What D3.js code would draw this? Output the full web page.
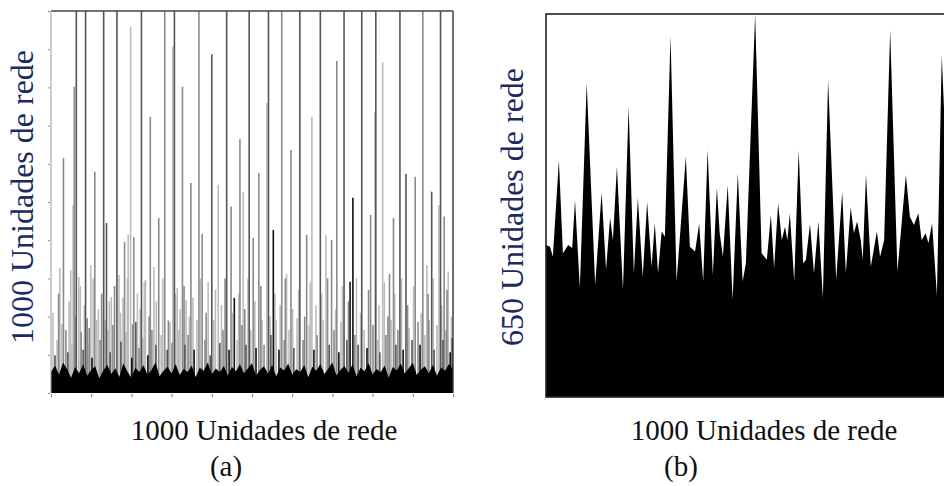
<!DOCTYPE html>
<html><head><meta charset="utf-8">
<script src="https://cdn.jsdelivr.net/npm/d3@7"></script>
<style>body{margin:0;background:#fff}svg{display:block}</style>
</head><body>
<svg id="c" width="944" height="486"></svg>
<script>
// ---------- DATA ----------
// Panel (a): tall columns [x (lattice units), height (lattice units), tone]
const aColumns = [
  [22,327,'light'],[31,615,'mid'],[49,322,'light'],[55,492,'light'],[58,802,'mid'],[63,1000,'dark'],
  [69,304,'light'],[86,1000,'dark'],[90,196,'mid'],[99,335,'light'],[109,579,'mid'],[131,1000,'dark'],
  [138,445,'dark'],[150,251,'light'],[164,1000,'dark'],[169,309,'light'],[183,395,'mid'],[192,414,'light'],
  [198,959,'light'],[206,408,'mid'],[225,1000,'dark'],[235,296,'light'],[247,723,'mid'],[256,330,'light'],
  [268,458,'mid'],[283,1000,'mid'],[303,907,'light'],[307,1000,'dark'],[314,275,'light'],[327,802,'mid'],
  [336,243,'light'],[348,550,'mid'],[368,1000,'mid'],[376,416,'mid'],[391,291,'light'],[400,887,'dark'],
  [416,545,'light'],[437,1000,'dark'],[448,488,'mid'],[456,249,'black'],[470,664,'mid'],[478,527,'light'],
  [493,1000,'dark'],[503,406,'mid'],[517,575,'mid'],[537,759,'light'],[541,1000,'dark'],[553,427,'black'],
  [574,1000,'mid'],[586,312,'light'],[597,636,'mid'],[619,1000,'dark'],[636,414,'mid'],[649,723,'light'],
  [670,1000,'dark'],[684,414,'light'],[698,401,'mid'],[711,869,'mid'],[729,1000,'dark'],[751,511,'black'],
  [773,1000,'dark'],[795,466,'mid'],[806,736,'light'],[808,1000,'dark'],[825,866,'light'],[842,312,'mid'],
  [852,458,'mid'],[868,1000,'dark'],[883,573,'dark'],[906,566,'mid'],[925,1000,'mid'],[935,335,'light'],
  [947,527,'dark'],[965,492,'light'],[969,1000,'dark'],[978,462,'mid'],[988,318,'light']
];
// Panel (a): medium columns filling the lower half
const aMid = [
  [5,210,'light'],[19,260,'mid'],[27,180,'light'],[45,240,'light'],[60,200,'mid'],[73,280,'light'],
  [83,230,'light'],[95,170,'mid'],[105,300,'light'],[118,220,'light'],[126,260,'mid'],[135,190,'light'],
  [145,240,'light'],[158,280,'mid'],[173,210,'light'],[179,250,'light'],[190,300,'light'],[203,180,'mid'],
  [215,260,'light'],[222,220,'light'],[232,290,'light'],[244,200,'mid'],[262,240,'light'],[278,300,'light'],
  [292,190,'mid'],[310,260,'light'],[321,220,'light'],[331,280,'mid'],[344,200,'light'],[353,250,'light'],
  [372,300,'light'],[386,210,'mid'],[409,270,'light'],[424,230,'light'],[433,300,'mid'],[451,210,'light'],
  [467,260,'light'],[482,220,'mid'],[490,300,'light'],[507,240,'light'],[522,280,'mid'],[545,200,'light'],
  [557,260,'light'],[570,230,'light'],[583,300,'mid'],[601,220,'light'],[616,270,'light'],[631,200,'mid'],
  [645,290,'light'],[659,230,'light'],[673,260,'light'],[688,300,'mid'],[708,220,'light'],[725,280,'light'],
  [740,240,'mid'],[760,300,'light'],[770,210,'light'],[790,270,'mid'],[816,230,'light'],[829,290,'light'],
  [838,200,'mid'],[855,260,'light'],[872,300,'light'],[887,230,'mid'],[902,280,'light'],[921,210,'light'],
  [938,260,'mid'],[951,300,'light'],[972,230,'light'],[985,270,'mid'],[996,200,'light']
];
// Panel (a): short columns near the bottom
const aShort = [
  [10,99,'dark'],[15,139,'light'],[37,165,'mid'],[42,107,'dark'],[52,126,'light'],[75,160,'mid'],
  [80,113,'dark'],[92,126,'light'],[102,92,'black'],[114,191,'light'],[122,139,'mid'],[142,165,'light'],
  [147,107,'dark'],[154,178,'mid'],[174,134,'dark'],[187,160,'light'],[201,92,'black'],[211,186,'dark'],
  [219,118,'mid'],[229,144,'light'],[241,99,'black'],[251,165,'mid'],[261,126,'dark'],[274,152,'light'],
  [289,113,'dark'],[296,186,'light'],[301,131,'mid'],[318,165,'light'],[333,126,'dark'],[341,152,'mid'],
  [356,113,'black'],[363,191,'light'],[383,139,'mid'],[396,99,'dark'],[405,191,'light'],[420,131,'dark'],
  [428,165,'mid'],[443,113,'black'],[463,139,'light'],[475,178,'mid'],[485,126,'dark'],[497,165,'light'],
  [510,118,'black'],[525,191,'light'],[530,126,'mid'],[547,152,'dark'],[560,191,'light'],[567,113,'black'],
  [580,139,'mid'],[592,165,'light'],[604,118,'dark'],[612,196,'light'],[627,139,'mid'],[642,178,'light'],
  [654,113,'black'],[662,152,'mid'],[677,191,'light'],[692,126,'dark'],[704,165,'mid'],[716,107,'black'],
  [721,186,'light'],[736,139,'dark'],[744,291,'black'],[756,152,'mid'],[764,126,'dark'],[779,165,'light'],
  [786,118,'black'],[801,178,'mid'],[813,139,'light'],[818,107,'dark'],[833,152,'mid'],[846,191,'light'],
  [858,126,'dark'],[863,165,'mid'],[876,113,'black'],[891,170,'light'],[898,139,'dark'],[913,186,'mid'],
  [918,126,'black'],[930,152,'light'],[940,191,'mid'],[953,113,'dark'],[960,178,'light'],[975,139,'dark'],
  [983,165,'mid'],[993,107,'black'],[998,144,'dark']
];
// Panel (a): dense black base layer (height in lattice units, every 10 units)
const aBandX = d3.range(0, 1001, 10);
const aBandH = [55,72,48,80,62,40,68,52,75,45, 60,70,38,58,74,50,65,42,78,56,
  40,67,54,73,48,60,80,44,58,69, 51,76,47,63,55,72,42,66,58,80, 49,64,54,71,46,68,57,75,52,65,
  78,45,61,70,50,74,43,67,59,77, 48,62,55,73,41,69,58,76,50,64, 80,46,60,71,53,75,44,66,57,78,
  49,63,54,72,40,68,59,77,51,65, 79,47,61,70,52,74,45,67,58,76, 62];
const aXTicks = [0,100,200,300,400,500,600,700,800,900,1000];
const aYTicks = [0,100,200,300,400,500,600,700,800,900,1000];

// Panel (b): height profile [x (lattice units), height (lattice units)]
const bProfile = [
  [0,258],[10,255],[17,238],[32,402],[42,244],[55,258],[65,253],[72,334],[84,185],[101,533],
  [122,190],[138,347],[149,216],[159,304],[166,266],[176,391],[191,182],[205,493],[218,210],[228,338],
  [240,204],[251,331],[262,221],[270,295],[278,210],[287,281],[295,272],[309,613],[324,196],[347,408],
  [357,255],[370,247],[380,294],[390,196],[401,419],[414,207],[424,355],[431,278],[439,238],[451,360],
  [463,165],[476,380],[488,196],[496,227],[519,650],[535,244],[548,233],[558,309],[566,219],[576,329],
  [585,266],[593,289],[599,266],[605,312],[616,196],[627,419],[638,227],[645,233],[655,294],[665,210],
  [676,298],[687,168],[700,538],[720,199],[735,348],[744,210],[756,322],[764,278],[772,298],[781,266],
  [786,233],[794,378],[806,221],[821,281],[829,238],[839,266],[854,623],[872,213],[893,377],[903,306],
  [913,292],[924,312],[932,266],[942,278],[949,261],[958,295],[970,173],[982,580],[992,419],[1000,266]
];

const labels = {
  aY: '1000 Unidades de rede', bY: '650 Unidades de rede',
  aX: '1000 Unidades de rede', bX: '1000 Unidades de rede',
  aCap: '(a)', bCap: '(b)'
};

// ---------- DRAW ----------
const svg = d3.select('#c');
const FONT = '"Liberation Serif"';
const tone = d3.scaleOrdinal(['light','mid','dark','black'], ['#bcbcbc','#8a8a8a','#565656','#111111']);
const toneOrder = {light:0, mid:1, dark:2, black:3};

// Panel (a)
const xa = d3.scaleLinear([0,1000],[51,453]);
const ya = d3.scaleLinear([0,1000],[393,11]);
const ga = svg.append('g');

const colsA = aColumns.concat(aMid, aShort).slice().sort((p,q)=>toneOrder[p[2]]-toneOrder[q[2]]);
ga.selectAll('line.col').data(colsA).join('line')
  .attr('class','col')
  .attr('x1',d=>xa(d[0])).attr('x2',d=>xa(d[0]))
  .attr('y1',ya(0)).attr('y2',d=>ya(d[1]))
  .attr('stroke',d=>tone(d[2]))
  .attr('stroke-width',1.6);

ga.append('path')
  .datum(aBandX.map((x,i)=>[x,aBandH[i]]))
  .attr('d', d3.area().x(d=>xa(d[0])).y0(ya(0)).y1(d=>ya(d[1])))
  .attr('fill','#000');

// frame (a)
ga.append('line').attr('x1',51).attr('x2',453).attr('y1',11).attr('y2',11).attr('stroke','#444').attr('stroke-width',1.3);
ga.append('line').attr('x1',453).attr('x2',453).attr('y1',11).attr('y2',393).attr('stroke','#333').attr('stroke-width',1.4);
ga.append('line').attr('x1',51).attr('x2',51).attr('y1',11).attr('y2',393).attr('stroke','#999').attr('stroke-width',1);

const axA = ga.append('g').attr('transform',`translate(0,${ya(0)+1})`)
  .call(d3.axisBottom(xa).tickValues(aXTicks).tickSize(3).tickFormat(''));
axA.select('.domain').remove();
axA.selectAll('line').attr('stroke','#777');
const ayA = ga.append('g').attr('transform',`translate(${xa(0)-1},0)`)
  .call(d3.axisLeft(ya).tickValues(aYTicks).tickSize(2).tickFormat(''));
ayA.select('.domain').remove();
ayA.selectAll('line').attr('stroke','#888');

// Panel (b)
const xb = d3.scaleLinear([0,1000],[546,949]);
const yb = d3.scaleLinear([0,650],[397,14]);
const gb = svg.append('g');
gb.append('path').datum(bProfile)
  .attr('d', d3.area().x(d=>xb(d[0])).y0(yb(0)).y1(d=>yb(d[1])))
  .attr('fill','#000');
gb.append('rect').attr('x',xb(0)).attr('y',yb(650)).attr('width',xb(1000)-xb(0)).attr('height',yb(0)-yb(650))
  .attr('fill','none').attr('stroke','#222').attr('stroke-width',1.6);

// Texts
const navy = '#1b2a60';
function label(sel, size, color){
  return sel.style('font-family',FONT).style('font-size',size+'px').attr('fill',color).attr('text-anchor','middle');
}
label(svg.append('text').attr('transform','translate(33,197) rotate(-90)'),32,navy).text(labels.aY);
label(svg.append('text').attr('transform','translate(523,207) rotate(-90)'),32,navy).text(labels.bY);
label(svg.append('text').attr('x',264).attr('y',440),29,'#111').text(labels.aX);
label(svg.append('text').attr('x',764).attr('y',440),29,'#111').text(labels.bX);
label(svg.append('text').attr('x',226).attr('y',476),29,'#111').text(labels.aCap);
label(svg.append('text').attr('x',681).attr('y',476),29,'#111').text(labels.bCap);
</script>
</body></html>
